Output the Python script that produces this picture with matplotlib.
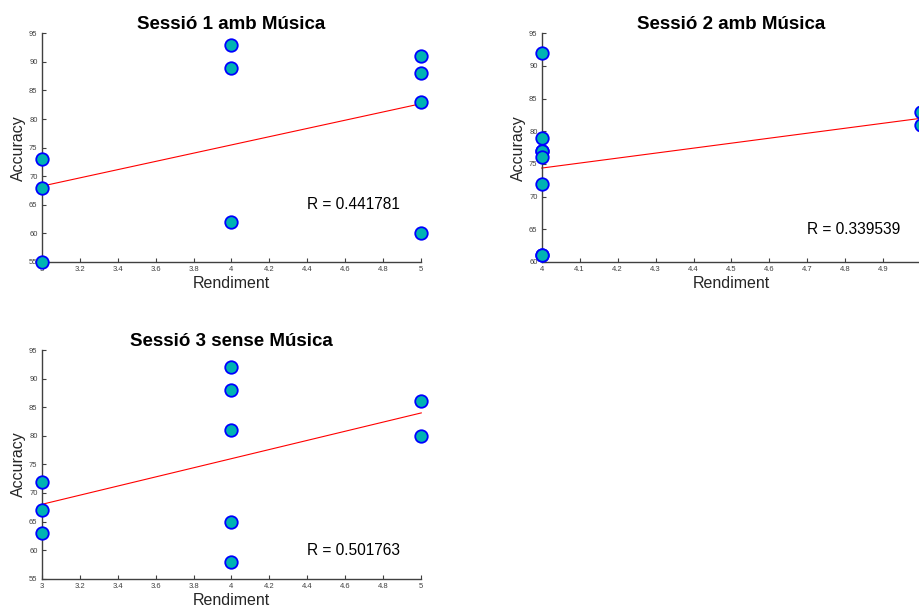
import matplotlib.pyplot as plt
import numpy as np

plt.rcParams['font.family'] = ['Liberation Sans', 'DejaVu Sans']

titles = ['Sessió 1 amb Música', 'Sessió 2 amb Música', 'Sessió 3 sense Música']

x1 = [3, 3, 3, 4, 4, 4, 5, 5, 5, 5]
y1 = [73, 68, 55, 93, 89, 62, 91, 88, 83, 60]
x2 = [4, 4, 4, 4, 4, 4, 4, 4, 5, 5]
y2 = [92, 79, 77, 77, 76, 72, 61, 61, 83, 81]
x3 = [3, 3, 3, 4, 4, 4, 4, 4, 5, 5]
y3 = [72, 67, 63, 92, 88, 81, 65, 58, 86, 80]

r_text = ['R = 0.441781', 'R = 0.339539', 'R = 0.501763']
r_pos = [(4.4, 65), (4.7, 65), (4.4, 60)]
xlims = [(3, 5), (4, 5), (3, 5)]
ylims = [(55, 95), (60, 95), (55, 95)]
xticks = [np.arange(3, 5.01, 0.2), np.arange(4, 5.01, 0.1), np.arange(3, 5.01, 0.2)]
xticklabels = [['3', '3.2', '3.4', '3.6', '3.8', '4', '4.2', '4.4', '4.6', '4.8', '5'],
               ['4', '4.1', '4.2', '4.3', '4.4', '4.5', '4.6', '4.7', '4.8', '4.9', '5'],
               ['3', '3.2', '3.4', '3.6', '3.8', '4', '4.2', '4.4', '4.6', '4.8', '5']]

positions = [[0.0453, 0.5705, 0.4126, 0.3749],
             [0.5888, 0.5705, 0.4126, 0.3749],
             [0.0453, 0.0513, 0.4126, 0.3749]]

fig = plt.figure(figsize=(9.2, 6.1), dpi=100)
data = [(x1, y1), (x2, y2), (x3, y3)]
axc = '#404040'

for i in range(3):
    ax = fig.add_axes(positions[i])
    x, y = np.array(data[i][0]), np.array(data[i][1])
    p = np.polyfit(x, y, 1)
    xl = np.array(xlims[i])
    ax.plot(xl, np.polyval(p, xl), color='red', lw=0.8, clip_on=False)
    ax.plot(x, y, 'o', ms=9, mfc=(0, 0.7, 0.7), mec='blue', mew=1.3, clip_on=False, zorder=3)
    ax.set_xlim(*xlims[i])
    ax.set_ylim(*ylims[i])
    ax.set_xticks(xticks[i])
    ax.set_xticklabels(xticklabels[i])
    ax.set_yticks(np.arange(ylims[i][0], 95.1, 5))
    ax.tick_params(direction='in', length=3, labelsize=5.5, colors=axc, width=0.8, pad=3)
    for s in ['top', 'right']:
        ax.spines[s].set_visible(False)
    for s in ['left', 'bottom']:
        ax.spines[s].set_color(axc)
        ax.spines[s].set_linewidth(1.0)
    ax.set_title(titles[i], fontsize=13.5, fontweight='bold', pad=3)
    ax.set_xlabel('Rendiment', fontsize=11.5, color='#262626', labelpad=2)
    ax.set_ylabel('Accuracy', fontsize=11.5, color='#262626', labelpad=2)
    ax.text(r_pos[i][0], r_pos[i][1], r_text[i], fontsize=11.2, va='center', ha='left')

fig.savefig('out.png', dpi=100)
